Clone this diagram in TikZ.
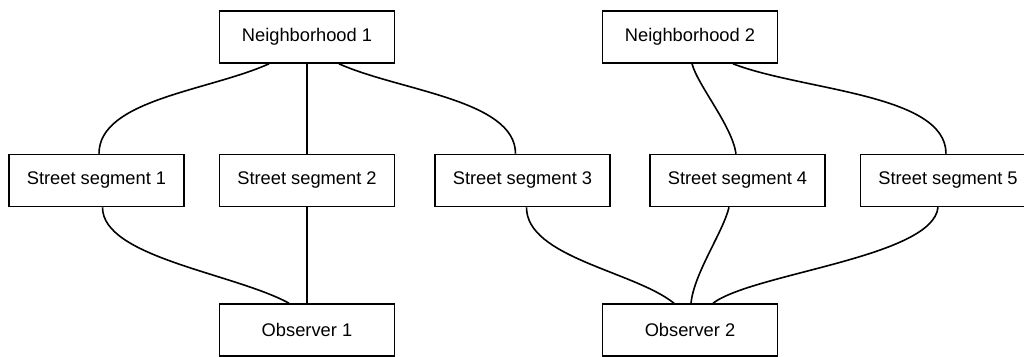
\documentclass[tikz,border=0pt]{standalone}
\usepackage{fontspec}
\setmainfont{Liberation Sans}
\begin{document}
\begin{tikzpicture}[x=1pt,y=-1pt,
  box/.style={draw=black,line width=1.6pt,fill=white,minimum width=175pt,minimum height=52pt,
    inner sep=0pt,font=\fontsize{18.3}{22}\selectfont},
  link/.style={draw=black,line width=1.6pt}]
\useasboundingbox (0,0) rectangle (1024,356);
\clip (0,0) rectangle (1024,356);
\fill[white] (0,0) rectangle (1024,356);
% top row
\node[box] (n1) at (307,37) {Neighborhood 1};
\node[box] (n2) at (690,37) {Neighborhood 2};
% middle row
\node[box] (s1) at (96.5,180.5) {Street segment 1};
\node[box] (s2) at (307,180.5) {Street segment 2};
\node[box] (s3) at (522.5,180.5) {Street segment 3};
\node[box] (s4) at (737.5,180.5) {Street segment 4};
\node[box] (s5) at (948,180.5) {Street segment 5};
% bottom row
\node[box] (o1) at (307,330) {Observer 1};
\node[box] (o2) at (690,330) {Observer 2};
% neighborhood -> street segment
\draw[link] ([xshift=-38pt]n1.south) .. controls +(-60,27) and +(0,-54) .. ([xshift=2.5pt]s1.north);
\draw[link] (n1.south) -- (s2.north);
\draw[link] ([xshift=32pt]n1.south) .. controls +(60,27) and +(0,-54) .. ([xshift=-7pt]s3.north);
\draw[link] ([xshift=2pt]n2.south) .. controls +(6,22) and +(-4,-28) .. ([xshift=-1.5pt]s4.north);
\draw[link] ([xshift=43pt]n2.south) .. controls +(70,27) and +(0,-60) .. ([xshift=-2pt]s5.north);
% street segment -> observer
\draw[link] ([xshift=6pt]s1.south) .. controls +(0,50) and +(-55,-30) .. ([xshift=-18pt]o1.north);
\draw[link] (s2.south) -- (o1.north);
\draw[link] ([xshift=4pt]s3.south) .. controls +(0,50) and +(-40,-32) .. ([xshift=-16pt]o2.north);
\draw[link] ([xshift=-8.5pt]s4.south) .. controls +(-6,25) and +(3,-30) .. ([xshift=1pt]o2.north);
\draw[link] ([xshift=-10pt]s5.south) .. controls +(-5,50) and +(40,-30) .. ([xshift=23pt]o2.north);
\end{tikzpicture}
\end{document}
